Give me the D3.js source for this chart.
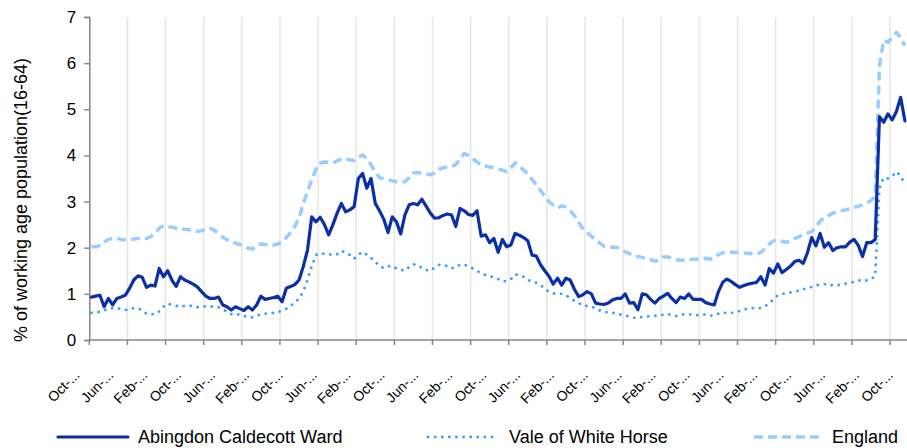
<!DOCTYPE html>
<html>
<head>
<meta charset="utf-8">
<script src="https://cdn.jsdelivr.net/npm/d3@7"></script>
<style>
  html, body { margin: 0; padding: 0; background: #ffffff; }
  svg { display: block; font-family: "Liberation Sans", Arial, sans-serif; }
</style>
</head>
<body>
<svg id="chart" width="907" height="448"></svg>
<script>
// Monthly categories, Oct 2004 .. Oct 2020
const categories = d3.timeMonth.range(new Date(2004, 9, 1), new Date(2020, 10, 1)).map(d3.timeFormat("%b-%y"));

const seriesNames = ["Abingdon Caldecott Ward", "Vale of White Horse", "England"];

const abingdon = [
  0.93,0.95,0.97,0.72,0.9,0.76,0.9,0.93,0.97,1.12,
  1.3,1.39,1.36,1.14,1.19,1.17,1.55,1.37,1.5,1.3,
  1.16,1.37,1.3,1.26,1.21,1.15,1.05,0.95,0.9,0.9,
  0.93,0.76,0.72,0.65,0.72,0.68,0.64,0.72,0.65,0.76,
  0.95,0.88,0.9,0.92,0.95,0.83,1.12,1.16,1.2,1.3,
  1.59,1.95,2.67,2.56,2.66,2.5,2.28,2.5,2.75,2.96,
  2.78,2.82,2.89,3.5,3.61,3.29,3.5,2.96,2.8,2.62,
  2.33,2.67,2.56,2.3,2.71,2.93,2.96,2.93,3.05,2.9,
  2.75,2.64,2.65,2.7,2.73,2.71,2.46,2.85,2.8,2.72,
  2.7,2.8,2.25,2.28,2.11,2.2,1.9,2.18,2.02,2.06,
  2.31,2.27,2.22,2.15,1.84,1.82,1.63,1.5,1.38,1.21,
  1.34,1.19,1.34,1.3,1.1,0.94,0.98,1.05,1.0,0.8,
  0.78,0.77,0.8,0.87,0.9,0.9,1.0,0.8,0.81,0.66,
  1.0,0.98,0.88,0.8,0.9,0.95,1.01,0.9,0.81,0.93,
  0.9,1.0,0.88,0.88,0.88,0.81,0.78,0.76,1.05,1.25,
  1.32,1.27,1.2,1.14,1.18,1.21,1.23,1.25,1.37,1.19,
  1.55,1.45,1.65,1.46,1.53,1.6,1.7,1.73,1.66,1.89,
  2.22,2.04,2.31,2.01,2.11,1.94,2.0,2.02,2.02,2.12,
  2.18,2.05,1.81,2.11,2.11,2.18,4.84,4.72,4.9,4.77,
  4.95,5.26,4.75
];

const vale = [
  0.59,0.6,0.61,0.64,0.68,0.69,0.69,0.67,0.65,0.67,
  0.69,0.69,0.64,0.57,0.56,0.56,0.62,0.72,0.79,0.76,
  0.74,0.72,0.74,0.75,0.73,0.71,0.72,0.73,0.73,0.72,
  0.71,0.66,0.62,0.56,0.56,0.55,0.52,0.5,0.49,0.52,
  0.56,0.57,0.58,0.59,0.6,0.64,0.68,0.74,0.8,0.9,
  1.05,1.3,1.6,1.84,1.88,1.87,1.86,1.84,1.86,1.93,
  1.9,1.84,1.76,1.85,1.91,1.85,1.78,1.7,1.6,1.56,
  1.6,1.6,1.55,1.52,1.5,1.58,1.64,1.63,1.56,1.52,
  1.5,1.57,1.63,1.63,1.6,1.55,1.58,1.63,1.63,1.6,
  1.55,1.5,1.44,1.41,1.39,1.35,1.32,1.27,1.28,1.32,
  1.42,1.41,1.37,1.3,1.27,1.24,1.19,1.12,1.04,1.01,
  1.0,1.0,0.97,0.91,0.85,0.8,0.75,0.74,0.73,0.68,
  0.64,0.61,0.6,0.59,0.57,0.55,0.53,0.51,0.48,0.48,
  0.5,0.51,0.51,0.52,0.53,0.55,0.56,0.54,0.52,0.55,
  0.56,0.56,0.55,0.54,0.55,0.55,0.53,0.53,0.57,0.59,
  0.59,0.59,0.59,0.63,0.66,0.68,0.69,0.69,0.69,0.73,
  0.8,0.88,0.97,1.0,1.01,1.03,1.05,1.07,1.1,1.12,
  1.15,1.18,1.21,1.21,1.21,1.18,1.18,1.21,1.22,1.24,
  1.26,1.29,1.29,1.29,1.32,1.38,3.3,3.52,3.5,3.55,
  3.65,3.55,3.38
];

const england = [
  2.02,2.02,2.05,2.12,2.18,2.2,2.2,2.18,2.17,2.17,
  2.19,2.2,2.2,2.2,2.24,2.32,2.42,2.47,2.47,2.44,
  2.42,2.4,2.4,2.39,2.37,2.35,2.37,2.4,2.42,2.38,
  2.3,2.23,2.17,2.13,2.1,2.07,2.03,1.99,1.97,2.05,
  2.08,2.07,2.06,2.06,2.08,2.13,2.22,2.33,2.46,2.65,
  2.95,3.22,3.47,3.7,3.83,3.86,3.85,3.84,3.88,3.93,
  3.93,3.9,3.89,3.96,4.01,3.93,3.8,3.63,3.52,3.49,
  3.47,3.45,3.43,3.42,3.43,3.52,3.62,3.63,3.61,3.6,
  3.58,3.62,3.7,3.73,3.75,3.76,3.8,3.92,4.04,4.0,
  3.93,3.86,3.8,3.77,3.75,3.73,3.71,3.68,3.65,3.73,
  3.84,3.78,3.68,3.6,3.48,3.36,3.24,3.12,3.0,2.92,
  2.86,2.91,2.88,2.8,2.7,2.55,2.41,2.33,2.25,2.17,
  2.1,2.03,2.02,2.01,2.01,1.97,1.91,1.87,1.84,1.81,
  1.79,1.76,1.74,1.71,1.72,1.8,1.8,1.77,1.74,1.73,
  1.73,1.74,1.75,1.75,1.76,1.77,1.75,1.78,1.85,1.89,
  1.9,1.9,1.9,1.89,1.88,1.88,1.87,1.86,1.9,1.98,
  2.08,2.15,2.16,2.14,2.12,2.15,2.2,2.24,2.28,2.32,
  2.35,2.45,2.58,2.65,2.7,2.75,2.78,2.8,2.82,2.84,
  2.87,2.9,2.93,2.97,3.02,3.12,5.95,6.5,6.45,6.55,
  6.67,6.55,6.38
];

const yTicks = [0, 1, 2, 3, 4, 5, 6, 7];
const yTitle = "% of working age population(16-64)";
const labelEvery = 8;   // category label interval
const tickEvery = 9;    // tick mark / gridline interval
const tickLabels = categories.filter((c, i) => i % labelEvery === 0).map(c => c.slice(0, 4) + "...");

// ---------- layout ----------
const svg = d3.select("#chart");
const plot = { left: 89.3, right: 907, top: 17, bottom: 340 };

const x = d3.scaleBand().domain(categories).range([plot.left, plot.right]).paddingInner(0).paddingOuter(0);
const y = d3.scaleLinear().domain([0, 7]).range([plot.bottom, plot.top]);
const cx = c => x(c) + x.bandwidth() / 2;

const axisColor = "#868686";

// vertical gridlines
const gridCats = categories.filter((c, i) => i % tickEvery === 0 && i > 0);
svg.append("g").selectAll("line").data(gridCats).join("line")
  .attr("x1", d => x(d)).attr("x2", d => x(d))
  .attr("y1", plot.top).attr("y2", plot.bottom)
  .attr("stroke", "#e6e6e6").attr("stroke-width", 1.5);

// y axis
const yAxis = d3.axisLeft(y).tickValues(yTicks).tickSize(5).tickPadding(8).tickFormat(d3.format("d"));
const gy = svg.append("g").attr("transform", `translate(${plot.left},0)`).call(yAxis);
gy.select(".domain").attr("stroke", axisColor).attr("stroke-width", 1.5);
gy.selectAll(".tick line").attr("stroke", axisColor).attr("stroke-width", 1.5);
gy.selectAll(".tick text").attr("font-size", 17).attr("fill", "#000").attr("font-family", "Liberation Sans, Arial, sans-serif");

// x axis line + ticks
const tickCats = categories.filter((c, i) => i % tickEvery === 0);
const gx = svg.append("g");
gx.append("line").attr("x1", plot.left).attr("x2", plot.right).attr("y1", plot.bottom).attr("y2", plot.bottom)
  .attr("stroke", axisColor).attr("stroke-width", 1.5);
gx.selectAll("line.tk").data(tickCats).join("line").attr("class", "tk")
  .attr("x1", d => x(d)).attr("x2", d => x(d)).attr("y1", plot.bottom).attr("y2", plot.bottom + 5)
  .attr("stroke", axisColor).attr("stroke-width", 1.5);

// x labels (rotated)
const labelCats = categories.filter((c, i) => i % labelEvery === 0);
gx.selectAll("text").data(labelCats).join("text")
  .attr("transform", d => `translate(${cx(d) - 11},${376}) rotate(-45)`)
  .attr("text-anchor", "end")
  .attr("font-size", 14)
  .attr("fill", "#000")
  .text((d, i) => tickLabels[i]);

// y title
svg.append("text")
  .attr("transform", `translate(27,${200}) rotate(-90)`)
  .attr("text-anchor", "middle")
  .attr("font-size", 18)
  .attr("fill", "#000")
  .text(yTitle);

// lines
const styles = [
  { data: abingdon, color: "#0b30a6", width: 3.2, dash: null, cap: "round" },
  { data: vale, color: "#3d9cff", width: 2.8, dash: "0.1,7", cap: "round" },
  { data: england, color: "#9accff", width: 3.5, dash: "9,5", cap: "butt" }
];

const line = d3.line().x((d, i) => cx(categories[i])).y(d => y(d));

const drawOrder = [2, 1, 0];
drawOrder.forEach(k => {
  const s = styles[k];
  svg.append("path").datum(s.data)
    .attr("d", line)
    .attr("fill", "none")
    .attr("stroke", s.color)
    .attr("stroke-width", s.width)
    .attr("stroke-linejoin", "round")
    .attr("stroke-linecap", s.cap)
    .attr("stroke-dasharray", s.dash);
});

// legend
const legendY = 437;
const legendItems = [
  { x1: 58, x2: 128, tx: 138 },
  { x1: 428, x2: 496, tx: 509 },
  { x1: 754, x2: 820, tx: 832 }
];
const lg = svg.append("g");
legendItems.forEach((p, k) => {
  const s = styles[k];
  lg.append("line").attr("x1", p.x1).attr("x2", p.x2).attr("y1", legendY).attr("y2", legendY)
    .attr("stroke", s.color).attr("stroke-width", s.width)
    .attr("stroke-linecap", s.cap).attr("stroke-dasharray", s.dash);
  lg.append("text").attr("x", p.tx).attr("y", legendY).attr("dy", "0.35em")
    .attr("font-size", 18).attr("fill", "#000").text(seriesNames[k]);
});
</script>
</body>
</html>
